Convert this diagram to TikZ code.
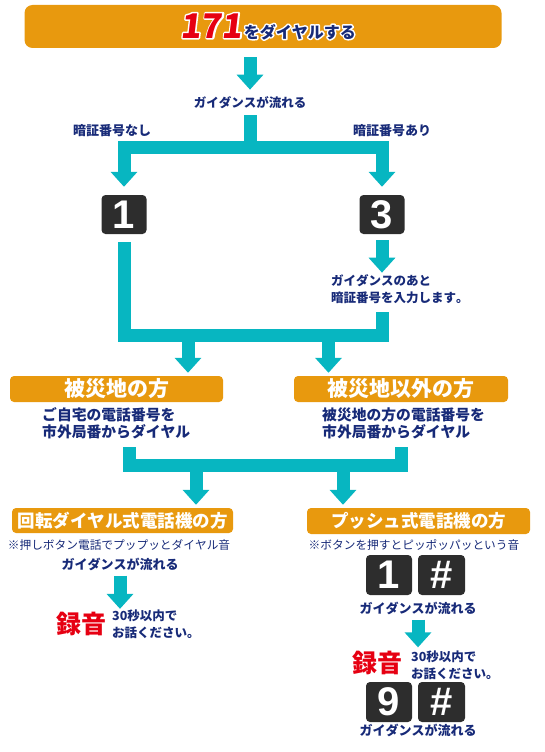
\documentclass[tikz,border=0pt]{standalone}
\usepackage{fontspec}
\setmainfont{Noto Sans CJK JP}[Kerning=Off]
\newfontfamily\keyfont{Liberation Sans}
\newfontfamily\slantfont{Noto Sans CJK JP}[FakeSlant=0.12]
\usepackage{tikz}
\usetikzlibrary{arrows.meta}
\usepackage{xcolor}
\definecolor{flowteal}{RGB}{7,182,193}
\definecolor{boxorange}{RGB}{232,153,14}
\definecolor{textnavy}{RGB}{23,42,120}
\definecolor{recred}{RGB}{230,0,18}
\definecolor{keygray}{RGB}{45,45,45}
\newcommand{\sz}[2]{\fontsize{#1}{#2}\selectfont}
% white rim behind a text
\newcommand{\rim}[1]{\rlap{\color{white}\special{pdf:literal direct 2 Tr 3 w 1 j 1 1 1 RG}#1\special{pdf:literal direct 0 Tr}}#1}

\tikzset{
  flow/.style={draw=flowteal, line width=13pt},
  flowarrow/.style={flow, ->},
  banner/.style={fill=boxorange, rounded corners=8pt, minimum width=477pt, minimum height=43pt, inner sep=0pt},
  orangebox/.style={fill=boxorange, rounded corners=4pt, text=white, inner sep=0pt, minimum height=26pt},
  keybox/.style={fill=keygray, rounded corners=4pt, text=white, inner sep=0pt, minimum width=46pt, minimum height=40pt, font=\keyfont\bfseries\sz{40}{40}},
  navytxt/.style={text=textnavy, inner sep=0pt, font=\bfseries\sz{13}{16}},
  notetxt/.style={text=textnavy, inner sep=0pt, font=\sz{11.7}{14}},
  rectxt/.style={text=recred, inner sep=0pt, font=\bfseries\sz{25}{25}},
}

\begin{document}
\begin{tikzpicture}[x=1pt, y=-1pt, >={Triangle[width=26pt,length=15pt]}]
  \useasboundingbox (0,0) rectangle (545,752);

  % dial 171
  \node[banner, text=textnavy] (dial) at (263,26.5)
    {\hspace{10pt}\bfseries{\slantfont\bfseries\sz{34}{34}\textcolor{recred}{\rim{171}}}\,{\sz{16}{16}\rim{をダイヤルする}}};
  \node[navytxt, font=\bfseries\sz{12.5}{15}] (guide1) at (250,103) {ガイダンスが流れる};
  \node[navytxt] (nopin) at (112,131) {暗証番号なし};
  \node[navytxt] (withpin) at (392,131) {暗証番号あり};

  \node[keybox, minimum width=45pt, minimum height=39pt] (key1) at (124,214.5) {1};
  \node[keybox, minimum width=45pt, minimum height=39pt] (key3) at (382,214.5) {3};
  \node[navytxt, anchor=west, align=left, font=\bfseries\sz{12.5}{17}] (pinnote) at (331,289.5)
    {ガイダンスのあと\\暗証番号を入力します。};

  \draw[flowarrow, shorten <=9pt] (dial.south -| guide1.north) -- ([yshift=7pt]guide1.north);
  \coordinate (split) at (250,147);
  \draw[flow, shorten <=6pt] (guide1.south) -- (split);
  \draw[flow, <->] ([yshift=8pt]key1.north) |- (split) -| ([yshift=8pt]key3.north);
  \draw[flowarrow] ([yshift=-6pt]key3.south) -- ([yshift=2pt]key3.south |- pinnote.north);

  % area
  \node[orangebox, minimum width=213pt, font=\bfseries\sz{21}{21}] (local) at (116.5,389) {被災地の方};
  \node[orangebox, minimum width=214pt, font=\bfseries\sz{21}{21}] (other) at (401,389) {被災地以外の方};
  \node[navytxt, anchor=west, align=left, font=\bfseries\sz{14.8}{17}] (localnote) at (42,423.5)
    {ご自宅の電話番号を\\市外局番からダイヤル};
  \node[navytxt, anchor=west, align=left, font=\bfseries\sz{14.8}{17}] (othernote) at (322,423.5)
    {被災地の方の電話番号を\\市外局番からダイヤル};

  \coordinate (merge1) at (382,335.5);
  \coordinate (down1) at (188,335.5);
  \coordinate (down2) at (328.5,335.5);
  \draw[flow] ([yshift=-8pt]key1.south) |- (merge1) -- ([yshift=-8pt]pinnote.south -| merge1);
  \draw[flowarrow] (down1) -- ([yshift=3pt]down1 |- local.north);
  \draw[flowarrow] (down2) -- ([yshift=3pt]down2 |- other.north);

  % phone type
  \node[orangebox, minimum width=221pt, minimum height=25pt, font=\bfseries\sz{17.5}{17.5}] (rotary) at (122.5,520.5) {回転ダイヤル式電話機の方};
  \node[orangebox, minimum width=223pt, font=\bfseries\sz{17.5}{17.5}] (push) at (418.5,521) {プッシュ式電話機の方};

  \coordinate (m2left) at (129.5,447);
  \coordinate (merge2) at (401.5,465.5);
  \coordinate (down3) at (196,465.5);
  \coordinate (down4) at (343,465.5);
  \draw[flow] (m2left) |- (merge2) -- (merge2 |- m2left);
  \draw[flowarrow] (down3) -- ([yshift=3pt]down3 |- rotary.north);
  \draw[flowarrow] (down4) -- ([yshift=3pt]down4 |- push.north);

  % rotary side
  \node[notetxt] (rotnote) at (119,545) {※押しボタン電話でプップッとダイヤル音};
  \node[navytxt] (guide2) at (120,564) {ガイダンスが流れる};
  \node[rectxt] (rec1) at (81.5,624) {録音};
  \node[navytxt, anchor=west, align=left, font=\bfseries\sz{12.5}{17}] (msg1) at (112,624.5) {30秒以内で\\お話ください。};
  \draw[flowarrow] ([yshift=-5pt]guide2.south) -- ([yshift=1pt]guide2.south |- msg1.north);

  % push side
  \node[notetxt] (pushnote) at (414,545) {※ボタンを押すとピッポッパッという音};
  \node[keybox] (p1) at (389,575) {1};
  \node[keybox, minimum width=47pt] (phash) at (441.5,575) {\#};
  \node[navytxt] (guide3) at (418,608) {ガイダンスが流れる};
  \node[rectxt] (rec2) at (377.5,663) {録音};
  \node[navytxt, anchor=west, align=left, font=\bfseries\sz{12.5}{17}] (msg2) at (411,665) {30秒以内で\\お話ください。};
  \draw[flowarrow] ([yshift=-5pt]guide3.south) -- ([yshift=3pt]guide3.south |- msg2.north);
  \node[keybox] (p9) at (389,702) {9};
  \node[keybox, minimum width=47pt] (phash2) at (441.5,702) {\#};
  \node[navytxt] (guide4) at (418,730) {ガイダンスが流れる};
\end{tikzpicture}
\end{document}
